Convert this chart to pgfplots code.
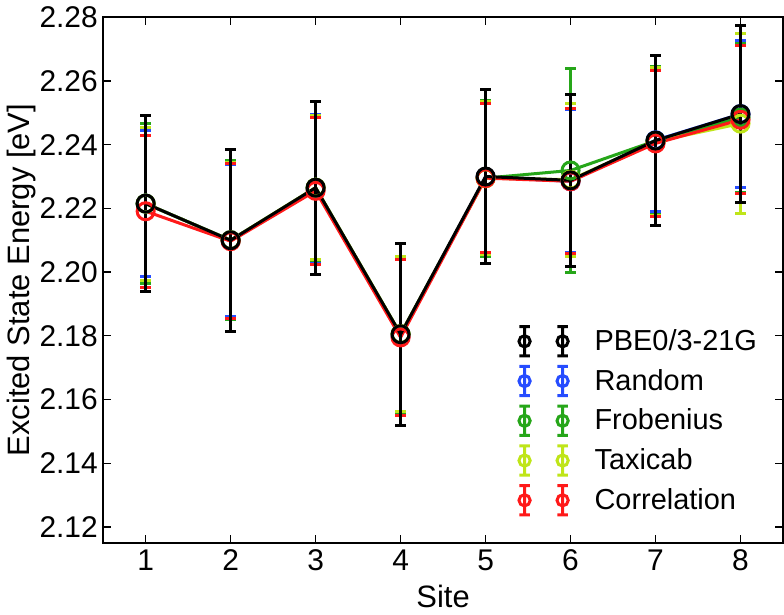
\documentclass[border=0pt]{standalone}
\usepackage{fontspec}
\setmainfont{Liberation Sans}
\usepackage{pgfplots}
\usepackage{pgfplotstable}
\pgfplotsset{compat=1.18}

\definecolor{cRandom}{rgb}{0.15,0.3,1.0}
\definecolor{cFrob}{rgb}{0.15,0.65,0.1}
\definecolor{cTaxi}{rgb}{0.75,0.9,0.1}
\definecolor{cCorr}{rgb}{1.0,0.1,0.1}

% site, mean, error
\pgfplotstableread{
x y e
1 2.2215 0.0276
2 2.2100 0.0285
3 2.2265 0.0272
4 2.1805 0.0285
5 2.2300 0.0273
6 2.2288 0.0270
7 2.2413 0.0267
8 2.2496 0.0278
}\pbe
\pgfplotstableread{
x y e
1 2.2215 0.0230
2 2.2100 0.0238
3 2.2262 0.0232
4 2.1800 0.0245
5 2.2298 0.0235
6 2.2285 0.0225
7 2.2414 0.0225
8 2.2496 0.0231
}\rnd
\pgfplotstableread{
x y e
1 2.2215 0.0251
2 2.2100 0.0250
3 2.2265 0.0228
4 2.1805 0.0245
5 2.2295 0.0245
6 2.2319 0.0320
7 2.2412 0.0232
8 2.2485 0.0234
}\frob
\pgfplotstableread{
x y e
1 2.2215 0.0240
2 2.2100 0.0245
3 2.2265 0.0226
4 2.1805 0.0243
5 2.2295 0.0240
6 2.2290 0.0240
7 2.2410 0.0232
8 2.2466 0.0283
}\taxi
\pgfplotstableread{
x y e
1 2.2191 0.0239
2 2.2097 0.0243
3 2.2255 0.0230
4 2.1795 0.0245
5 2.2295 0.0233
6 2.2285 0.0227
7 2.2404 0.0229
8 2.2478 0.0232
}\corr

\pgfplotsset{
  eb/.style={color=#1, line width=1.5bp, mark=o, mark size=4.25bp,
    mark options={solid, line width=1.5bp},
    error bars/y dir=both, error bars/y explicit,
    error bars/error bar style={#1, line width=1.5bp},
    error bars/error mark options={rotate=90, #1, mark size=2.6bp, line width=1.5bp}},
  legeb/.style={legend image code/.code={
    \draw[line width=1.5bp, #1]
      (0bp,0bp) circle (2.8bp) (0bp,-7.3bp) -- (0bp,7.3bp)
      (-2.6bp,-7.3bp) -- (2.6bp,-7.3bp) (-2.6bp,7.3bp) -- (2.6bp,7.3bp)
      (19bp,0bp) circle (2.8bp) (19bp,-7.3bp) -- (19bp,7.3bp)
      (16.4bp,-7.3bp) -- (21.6bp,-7.3bp) (16.4bp,7.3bp) -- (21.6bp,7.3bp);
    \path (32.75bp,0bp);}},
}

\begin{document}
\begin{tikzpicture}
\begin{axis}[
    scale only axis,
    width=339.5bp, height=262.5bp,
    xmin=0.5, xmax=8.5,
    ymin=2.115, ymax=2.28,
    xtick={1,...,8},
    ytick={2.12,2.14,...,2.28},
    /pgf/number format/assume math mode=true,
    tick align=inside,
    major tick length=4bp,
    tick style={black, line width=0.6bp},
    axis line style={line width=1bp},
    ticklabel style={font=\fontsize{15}{18}\selectfont},
    yticklabel style={inner xsep=2.5bp, /pgf/number format/.cd, fixed, fixed zerofill, precision=2},
    label style={font=\fontsize{15.5}{18}\selectfont},
    xlabel={Site},
    xlabel shift=0bp,
    ylabel={Excited State Energy [eV]},
    ylabel shift=-4bp,
    legend style={draw=none, fill=none, at={(0.600,0.042)}, anchor=south west,
      font=\fontsize{14.5}{17}\selectfont, row sep=3.75bp},
    legend cell align=left,
]
\addlegendimage{legeb=black}
\addlegendentry{PBE0/3-21G}
\addlegendimage{legeb=cRandom}
\addlegendentry{Random}
\addlegendimage{legeb=cFrob}
\addlegendentry{Frobenius}
\addlegendimage{legeb=cTaxi}
\addlegendentry{Taxicab}
\addlegendimage{legeb=cCorr}
\addlegendentry{Correlation}

\addplot[forget plot, eb=cRandom] table[x=x, y=y, y error=e] {\rnd};
\addplot[forget plot, eb=cFrob] table[x=x, y=y, y error=e] {\frob};
\addplot[forget plot, eb=cTaxi] table[x=x, y=y, y error=e] {\taxi};
\addplot[forget plot, eb=cCorr] table[x=x, y=y, y error=e] {\corr};
\addplot[forget plot, eb=black] table[x=x, y=y, y error=e] {\pbe};
\end{axis}
\end{tikzpicture}
\end{document}
